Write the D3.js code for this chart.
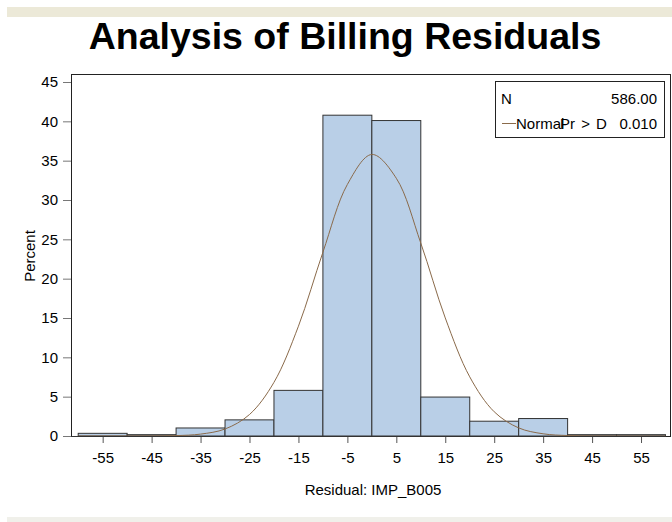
<!DOCTYPE html>
<html>
<head>
<meta charset="utf-8">
<script src="https://cdn.jsdelivr.net/npm/d3@7"></script>
<style>
  body { margin: 0; background: #fff; }
  text { font-family: "Liberation Sans", Arial, sans-serif; }
</style>
</head>
<body>
<svg id="chart" width="672" height="522"></svg>
<script>
// histogram bins (residual, width 10) and percent of obs in each
const binStarts = [-60, -50, -40, -30, -20, -10, 0, 10, 20, 30, 40, 50];
const binWidth = 10;
const binPercents = [0.34, 0.17, 1.02, 2.05, 5.80, 40.78, 40.10, 4.95, 1.88, 2.22, 0.17, 0.17];

// fitted normal curve
const curveX = [-60, -55, -50, -45, -40, -35, -30, -25, -20, -15, -10, -5, 0, 5, 10, 15, 20, 25, 30, 35, 40, 45, 50, 55, 60];
const curveY = [0, 0, 0, 0.01, 0.05, 0.24, 0.89, 2.73, 6.82, 13.96, 23.36, 31.98, 35.79, 32.76, 24.52, 15.01, 7.52, 3.08, 1.03, 0.28, 0.06, 0.01, 0, 0, 0];

const xTickLabels = [-55, -45, -35, -25, -15, -5, 5, 15, 25, 35, 45, 55];
const yTickLabels = [0, 5, 10, 15, 20, 25, 30, 35, 40, 45];

const legendN = "586.00";
const legendP = "0.010";

const svg = d3.select("#chart");
const fontSize = 15;

// the two beige page strips
svg.append("rect").attr("x", 7).attr("y", 7).attr("width", 665).attr("height", 10).attr("fill", "#ece9d8");
svg.append("rect").attr("x", 7).attr("y", 517).attr("width", 665).attr("height", 5).attr("fill", "#f0f0ea");

svg.append("text")
    .attr("x", 345).attr("y", 49)
    .attr("text-anchor", "middle")
    .attr("font-size", 37.5).attr("font-weight", "bold")
    .text("Analysis of Billing Residuals");

const plot = { left: 71, top: 74, right: 671, bottom: 436 };

const x = d3.scaleLinear().domain([-60, 60]).range([78.2, 665.5]);
const y = d3.scaleLinear().domain([0, 45]).range([plot.bottom, 82]);

// frame
svg.append("rect")
    .attr("x", plot.left + 0.5).attr("y", plot.top + 0.5)
    .attr("width", plot.right - plot.left - 1).attr("height", plot.bottom - plot.top)
    .attr("fill", "none").attr("stroke", "#222");

// bars
svg.append("g").selectAll("rect")
    .data(binStarts)
    .join("rect")
    .attr("x", d => x(d))
    .attr("y", (d, i) => y(binPercents[i]))
    .attr("width", d => x(d + binWidth) - x(d))
    .attr("height", (d, i) => y(0) - y(binPercents[i]))
    .attr("fill", "#b9cfe7")
    .attr("stroke", "#333")
    .attr("stroke-width", 1);

// normal curve
const line = d3.line()
    .x(d => x(d[0]))
    .y(d => y(d[1]))
    .curve(d3.curveCatmullRom);
svg.append("path")
    .attr("d", line(curveX.map((v, i) => [v, curveY[i]])))
    .attr("fill", "none")
    .attr("stroke", "#8a6a4a")
    .attr("stroke-width", 1);

// axes
const xAxis = svg.append("g")
    .attr("transform", "translate(0," + plot.bottom + ")")
    .call(d3.axisBottom(x).tickValues(xTickLabels).tickSize(7).tickSizeOuter(0).tickFormat(d => String(d)));
xAxis.select(".domain").remove();
xAxis.selectAll(".tick line").attr("stroke", "#555");
xAxis.selectAll(".tick text").attr("font-size", fontSize).attr("fill", "#000").attr("dy", "1.15em")
    .attr("font-family", "'Liberation Sans', Arial, sans-serif");
svg.append("line")
    .attr("x1", plot.left - 8).attr("x2", x(60))
    .attr("y1", plot.bottom + 0.5).attr("y2", plot.bottom + 0.5)
    .attr("stroke", "#333");

const yAxis = svg.append("g")
    .attr("transform", "translate(" + plot.left + ",0)")
    .call(d3.axisLeft(y).tickValues(yTickLabels).tickSize(8).tickSizeOuter(0).tickFormat(d => String(d)));
yAxis.select(".domain").remove();
yAxis.selectAll(".tick line").attr("stroke", "#777");
yAxis.selectAll(".tick text").attr("font-size", fontSize).attr("fill", "#000").attr("x", -13)
    .attr("font-family", "'Liberation Sans', Arial, sans-serif");

svg.append("text")
    .attr("transform", "translate(35,256) rotate(-90)")
    .attr("text-anchor", "middle")
    .attr("font-size", fontSize)
    .text("Percent");

svg.append("text")
    .attr("x", 373).attr("y", 495)
    .attr("text-anchor", "middle")
    .attr("font-size", fontSize)
    .text("Residual: IMP_B005");

// stats legend
const lg = svg.append("g").attr("font-size", fontSize);
lg.append("rect")
    .attr("x", 495.5).attr("y", 81.5).attr("width", 169).attr("height", 56)
    .attr("fill", "#fff").attr("stroke", "#222");
lg.append("text").attr("x", 501).attr("y", 104).text("N");
lg.append("text").attr("x", 657).attr("y", 104).attr("text-anchor", "end").text(legendN);
lg.append("line").attr("x1", 502).attr("x2", 516).attr("y1", 123.5).attr("y2", 123.5)
    .attr("stroke", "#8a6a4a");
lg.append("text").attr("x", 516).attr("y", 129).text("Normal");
lg.append("text").attr("x", 560).attr("y", 129).attr("word-spacing", 2).text("Pr > D");
lg.append("text").attr("x", 657).attr("y", 129).attr("text-anchor", "end").text(legendP);
</script>
</body>
</html>
